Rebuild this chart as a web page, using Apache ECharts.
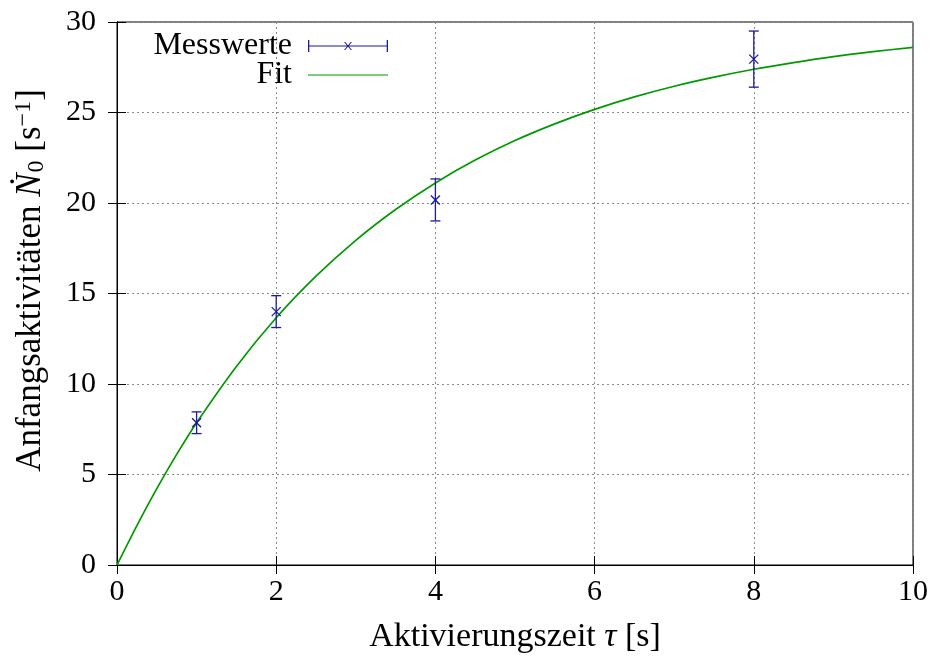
<!DOCTYPE html>
<html>
<head>
<meta charset="utf-8">
<script src="https://cdn.jsdelivr.net/npm/echarts@6/dist/echarts.min.js"></script>
<style>
html,body{margin:0;padding:0;background:#fff;}
#chart{width:933px;height:657px;}
</style>
</head>
<body>
<div id="chart"></div>
<script>
// Measured values (Aktivierungszeit tau [s], N0 [1/s], error)
const measX = [1, 2, 4, 8];
const measY = [7.86, 14.0, 20.17, 27.95];
const measErr = [0.6, 0.88, 1.16, 1.55];

// Fit curve values
const fitX = [0, 0.25, 0.5, 0.75, 1, 1.5, 2, 2.5, 3, 3.5, 4, 4.5, 5, 5.5, 6, 6.5, 7, 7.5, 8, 8.5, 9, 9.5, 10];
const fitY = [0, 2.18, 4.22, 6.11, 7.86, 10.97, 13.66, 15.96, 17.94, 19.64, 21.11, 22.37, 23.45, 24.37, 25.17, 25.86, 26.45, 26.95, 27.39, 27.76, 28.09, 28.36, 28.60];

const xTicks = {min: 0, max: 10, interval: 2};
const yTicks = {min: 0, max: 30, interval: 5};

const FONT = 'Liberation Serif';
const BLUE = '#1b1b9c';
const GREEN = '#009a00';

const measData = measX.map((x, i) => [x, measY[i], measErr[i]]);
const fitData = fitX.map((x, i) => [x, fitY[i]]);

const chart = echarts.init(document.getElementById('chart'), null, {renderer: 'canvas'});

const tickStyle = {show: true, inside: true, length: 9, lineStyle: {color: '#000', width: 1}};
const splitStyle = {show: true, lineStyle: {color: '#8a8a8a', width: 1, type: [2, 3]}};

const errIcon = 'path://M0 5.4 H80 V6.6 H0 Z M0 0 H1.3 V12 H0 Z M78.7 0 H80 V12 H78.7 Z M36 2 L37.2 2 L44 10 L42.8 10 Z M42.8 2 L44 2 L37.2 10 L36 10 Z';
const lineIcon = 'path://M0 5.4 H80 V6.6 H0 Z';

const xName = '{a|Aktivierungszeit }{i|τ}{a| [s]}';
const yName = '{a|Anfangsaktivitäten }{i|Ṅ}{sub|0}{a| [s}{sup|−1}{a|]}';

chart.setOption({
  animation: false,
  backgroundColor: '#fff',
  grid: {left: 117, right: 20, top: 22, bottom: 92, containLabel: false, outerBoundsMode: 'none',
    show: true, borderColor: '#000', borderWidth: 1, backgroundColor: 'transparent'},
  legend: [
    {
      data: [{name: 'Messwerte', icon: errIcon}],
      right: 933 - 388, top: 30, orient: 'vertical', align: 'right', padding: 0,
      itemWidth: 80, itemHeight: 12, selectedMode: false,
      textStyle: {fontFamily: FONT, fontSize: 32, color: '#000', lineHeight: 28, padding: [0, 11, 0, 0]}
    },
    {
      data: [{name: 'Fit', icon: lineIcon}],
      right: 933 - 388, top: 59, orient: 'vertical', align: 'right', padding: 0,
      itemWidth: 80, itemHeight: 12, selectedMode: false,
      textStyle: {fontFamily: FONT, fontSize: 32, color: '#000', lineHeight: 28, padding: [0, 11, 0, 0]}
    }
  ],
  xAxis: [
    {
      type: 'value', min: xTicks.min, max: xTicks.max, interval: xTicks.interval, position: 'bottom',
      name: xName, nameLocation: 'middle', nameGap: 55,
      nameTextStyle: {
        fontFamily: FONT, fontSize: 34, color: '#000',
        rich: {
          a: {fontFamily: FONT, fontSize: 34, color: '#000'},
          i: {fontFamily: FONT, fontSize: 34, color: '#000', fontStyle: 'italic'}
        }
      },
      axisLine: {show: true, lineStyle: {color: '#000'}},
      axisTick: tickStyle, splitLine: splitStyle,
      axisLabel: {fontFamily: FONT, fontSize: 30, color: '#000', margin: 12}
    },
    {
      type: 'value', min: xTicks.min, max: xTicks.max, interval: xTicks.interval, position: 'top',
      axisLine: {show: true, lineStyle: {color: '#000'}},
      axisTick: tickStyle, splitLine: {show: false}, axisLabel: {show: false}
    }
  ],
  yAxis: [
    {
      type: 'value', min: yTicks.min, max: yTicks.max, interval: yTicks.interval, position: 'left',
      name: yName, nameLocation: 'middle', nameGap: 66, nameRotate: 90,
      nameTextStyle: {
        fontFamily: FONT, fontSize: 35, color: '#000', padding: [0, 0, 0, 26],
        rich: {
          a: {fontFamily: FONT, fontSize: 35, color: '#000', lineHeight: 40},
          i: {fontFamily: FONT, fontSize: 35, color: '#000', fontStyle: 'italic', lineHeight: 40},
          sub: {fontFamily: FONT, fontSize: 24, color: '#000', padding: [12, 0, 0, 1], lineHeight: 40},
          sup: {fontFamily: FONT, fontSize: 24, color: '#000', padding: [0, 0, 14, 0], lineHeight: 40}
        }
      },
      axisLine: {show: true, lineStyle: {color: '#000'}},
      axisTick: tickStyle, splitLine: splitStyle,
      axisLabel: {fontFamily: FONT, fontSize: 30, color: '#000', margin: 21}
    },
    {
      type: 'value', min: yTicks.min, max: yTicks.max, interval: yTicks.interval, position: 'right',
      axisLine: {show: true, lineStyle: {color: '#000'}},
      axisTick: tickStyle, splitLine: {show: false}, axisLabel: {show: false}
    }
  ],
  series: [
    {
      name: 'Messwerte', type: 'custom', xAxisIndex: 0, yAxisIndex: 0,
      itemStyle: {color: BLUE}, z: 5,
      encode: {x: 0, y: 1},
      data: measData,
      renderItem: function (params, api) {
        const x = api.value(0), y = api.value(1), e = api.value(2);
        const c = api.coord([x, y]);
        const t = api.coord([x, y + e]);
        const b = api.coord([x, y - e]);
        const st = {stroke: BLUE, lineWidth: 1.3, fill: null};
        const cap = 5, m = 4.5;
        return {
          type: 'group',
          children: [
            {type: 'line', shape: {x1: t[0], y1: t[1], x2: b[0], y2: b[1]}, style: st},
            {type: 'line', shape: {x1: t[0] - cap, y1: t[1], x2: t[0] + cap, y2: t[1]}, style: st},
            {type: 'line', shape: {x1: b[0] - cap, y1: b[1], x2: b[0] + cap, y2: b[1]}, style: st},
            {type: 'line', shape: {x1: c[0] - m, y1: c[1] - m, x2: c[0] + m, y2: c[1] + m}, style: st},
            {type: 'line', shape: {x1: c[0] - m, y1: c[1] + m, x2: c[0] + m, y2: c[1] - m}, style: st}
          ]
        };
      }
    },
    {
      name: 'Fit', type: 'line', xAxisIndex: 0, yAxisIndex: 0,
      data: fitData, showSymbol: false, symbol: 'none', smooth: 0.3,
      itemStyle: {color: GREEN}, lineStyle: {color: GREEN, width: 1.7}, z: 4
    }
  ]
});
</script>
</body>
</html>
